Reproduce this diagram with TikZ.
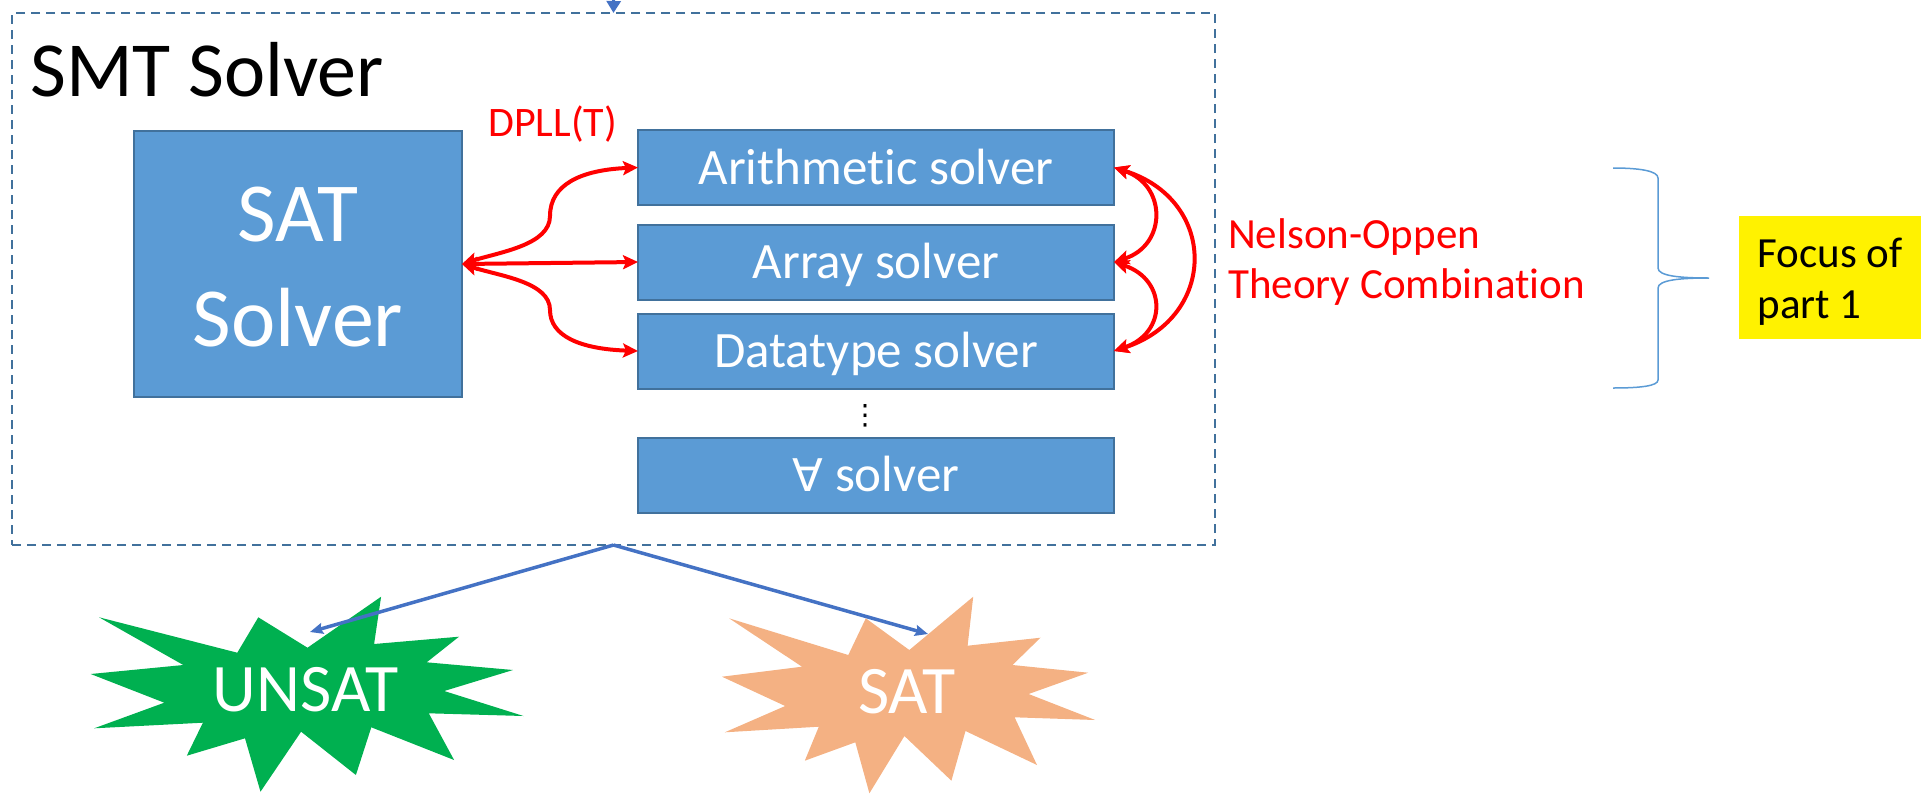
\documentclass[tikz,border=0pt]{standalone}
\usepackage{fontspec}
\setmainfont[Ligatures={NoCommon}]{Carlito}
\newfontfamily\symfont{DejaVu Sans}
\usetikzlibrary{arrows.meta}
\definecolor{boxblue}{HTML}{5B9BD5}
\definecolor{boxedge}{HTML}{41719C}
\definecolor{linkblue}{HTML}{4472C4}
\definecolor{unsatgreen}{HTML}{00B050}
\definecolor{satpeach}{HTML}{F4B183}
\begin{document}
\begin{tikzpicture}[x=1pt,y=-1pt,
  solverbox/.style={draw=boxedge, line width=2pt, fill=boxblue, minimum width=476pt,
    minimum height=75pt, inner sep=0pt, outer sep=0pt, text=white,
    font=\fontsize{51}{61}\selectfont, text height=33pt, text depth=0pt},
  redtip/.tip={Stealth[length=15pt,width=14pt,inset=3pt]},
  redlink/.style={draw=red, line width=4pt, redtip-redtip},
  bluelink/.style={draw=linkblue, line width=3.5pt, -{Stealth[length=13pt,width=11pt,inset=2pt]}},
  starlabel/.style={text=white, inner sep=0pt, font=\fontsize{68}{80}\selectfont,
    text height=44pt, text depth=0pt}
]
\useasboundingbox (0,0) rectangle (1927,793);

% outer SMT box
\node[draw=boxedge, line width=2pt, dash pattern=on 9pt off 6pt, minimum width=1203pt,
  minimum height=532pt, inner sep=0pt, outer sep=0pt] (smt) at (613.5,279) {};
\node[anchor=base west, inner sep=0pt, font=\fontsize{78}{94}\selectfont] (smttitle) at (30,96) {SMT Solver};

% incoming arrow
\coordinate (topin) at (614,-20);
\draw[linkblue, line width=3pt, -{Triangle[length=12pt,width=14pt]}] (topin) -- (smt.north);

% SAT solver
\node[draw=boxedge, line width=2pt, fill=boxblue, minimum width=328pt, minimum height=266pt,
  inner sep=0pt, outer sep=0pt, text=white, align=center,
  font=\fontsize{84}{105}\selectfont, text height=164pt, text depth=0pt] (sat) at (298,264) {SAT\\Solver};

% theory solvers
\node[solverbox] (arith) at (876,167.5) {Arithmetic solver};
\node[solverbox] (array) at (876,262) {Array solver};
\node[solverbox] (dtype) at (876,351) {Datatype solver};
\node[inner sep=0pt, font=\symfont\fontsize{28}{30}\selectfont] (dots) at (865,416) {⋮};
\node[solverbox] (forall) at (876,475) {{\symfont\fontsize{45}{50}\selectfont ∀} solver};

\node[anchor=base west, inner sep=0pt, text=red, font=\fontsize{42}{50}\selectfont] (dpll) at (488,136) {DPLL(T)};

% DPLL(T) arrows
\draw[redlink] (sat.east) .. controls (500,252) and (550,245) .. (550,216)
  .. controls (550,185) and (580,170) .. (arith.west);
\draw[redlink] (sat.east) -- (array.west);
\draw[redlink] (sat.east) .. controls (500,276) and (550,282) .. (550,310)
  .. controls (550,336) and (580,349) .. (dtype.west);

% Nelson-Oppen arrows
\draw[redlink] (arith.east) .. controls (1167,185) and (1167,245) .. (array.east);
\draw[redlink] (array.east) .. controls (1167,280) and (1167,333) .. (dtype.east);
\draw[redlink] (arith.east) .. controls (1218,200) and (1218,317) .. (dtype.east);

\node[anchor=base west, align=left, inner sep=0pt, text=red, font=\fontsize{43}{50}\selectfont]
  (nelson) at (1228,298) {Nelson-Oppen\\Theory Combination};

% brace
\coordinate (bracetip) at (1709,278);
\draw[boxblue, line width=1.5pt] (1613,168) .. controls (1640,168) and (1658,171) .. (1658,178)
  -- (1658,268) .. controls (1658,276) and (1680,278) .. (bracetip)
  .. controls (1680,278) and (1658,280) .. (1658,288)
  -- (1658,380) .. controls (1658,386) and (1640,388) .. (1613,388);

% focus box
\node[fill=yellow, minimum width=182pt, minimum height=123pt, inner sep=0pt, align=left,
  font=\fontsize{43}{51}\selectfont, text height=81pt, text depth=0pt] (focus) at (1830,277.5) {Focus of\\part 1};

% result stars
\fill[unsatgreen] (99.1,617.3) -- (183.3,665) -- (90.7,674) -- (164.3,702.7) -- (94.2,728.3)
  -- (202.9,722.7) -- (186.8,755.7) -- (245,738.3) -- (260.5,791.7) -- (301.1,731.7)
  -- (355.9,775) -- (371.3,727.3) -- (454.1,760) -- (428.8,713.3) -- (523.5,716)
  -- (444.2,691) -- (513,670) -- (426.7,662.3) -- (459,636.7) -- (374.1,644)
  -- (381.1,596.7) -- (307.5,647.7) -- (258.3,617.3) -- (237.3,652.7) -- cycle;
\fill[satpeach] (729.1,618.3) -- (802,666.7) -- (722,676.7) -- (785.2,706) -- (724.8,732.3)
  -- (818.8,726.7) -- (804.8,760.7) -- (855.3,742.3) -- (869.4,793.3) -- (904.4,736)
  -- (951.4,780.7) -- (965.5,731) -- (1037,765) -- (1014.6,717.3) -- (1095.2,720)
  -- (1028.6,694) -- (1088.2,672.7) -- (1012.5,665) -- (1040.5,637.7) -- (967.6,645.7)
  -- (973.2,596.7) -- (909.3,650) -- (865.8,618.3) -- (848.3,655) -- cycle;
\node[starlabel] (unsat) at (305.6,689) {UNSAT};
\node[starlabel] (satres) at (907,691) {SAT};

% result arrows
\coordinate (unsattip) at (310,632);
\coordinate (sattip) at (928,634);
\draw[bluelink] (smt.south) -- (unsattip);
\draw[bluelink] (smt.south) -- (sattip);
\end{tikzpicture}
\end{document}
